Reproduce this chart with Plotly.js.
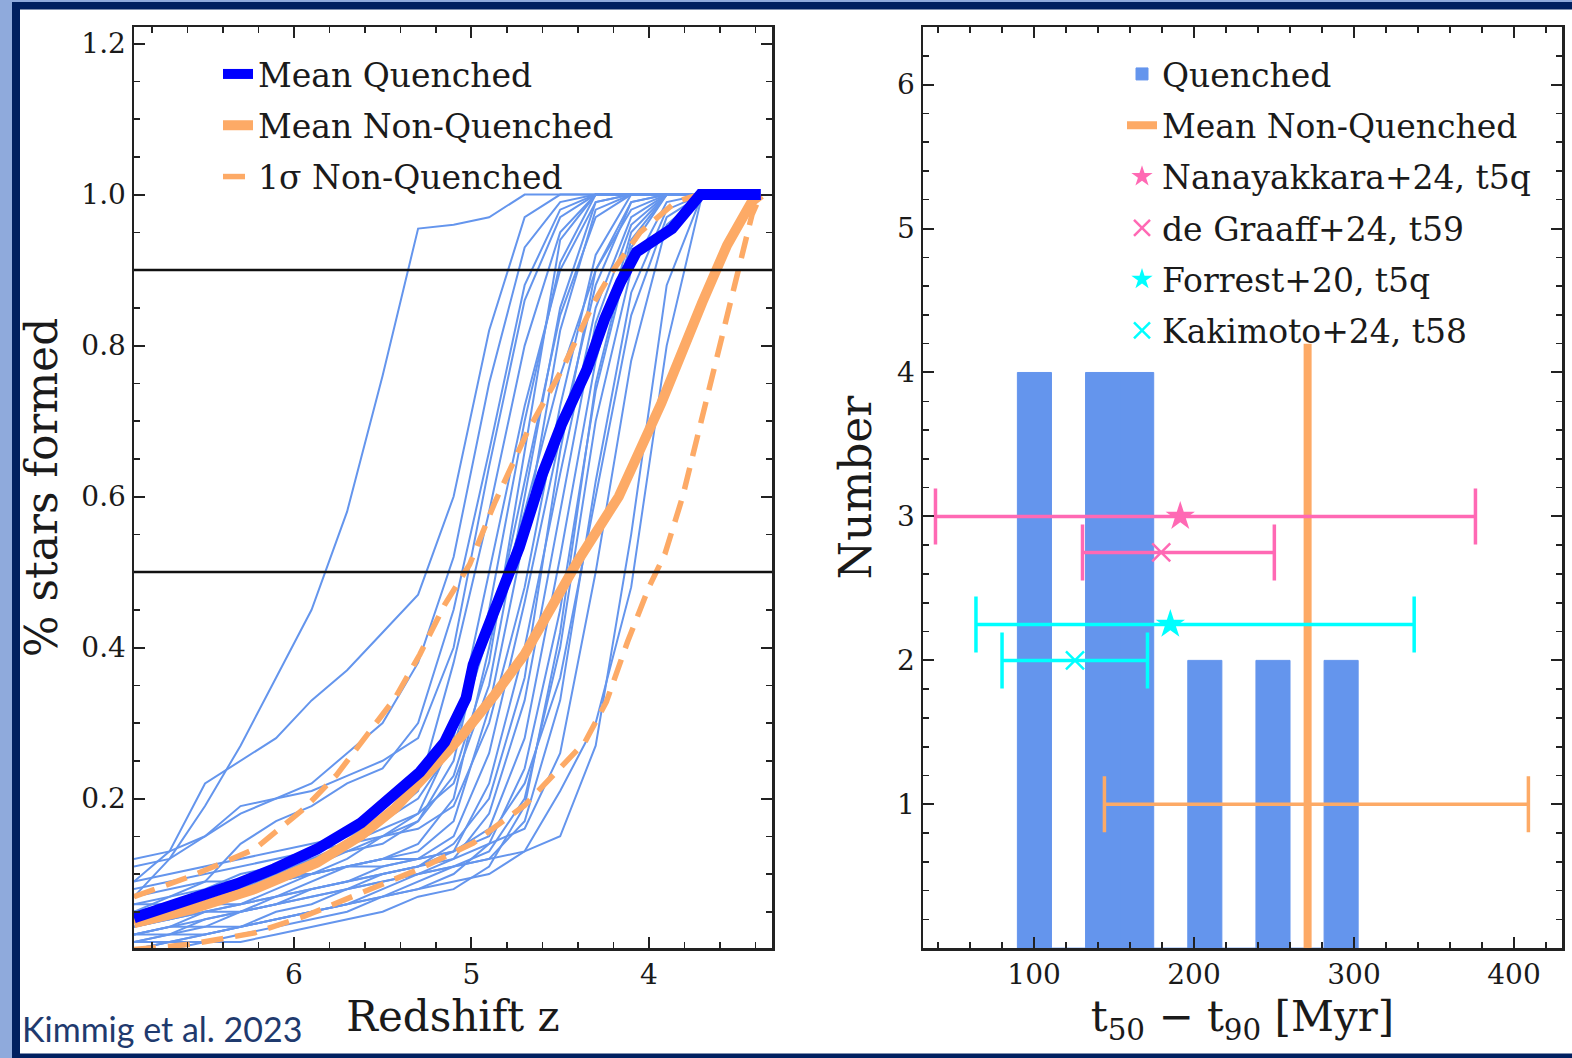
<!DOCTYPE html>
<html>
<head>
<meta charset="utf-8">
<script src="https://cdn.plot.ly/plotly-3.0.1.min.js"></script>
<style>
  html, body { margin: 0; padding: 0; background: #ffffff; }
  #chart { width: 1572px; height: 1058px; }
</style>
</head>
<body>
<div id="chart"></div>
<script>
// ================= LEFT PANEL DATA =================
// common redshift grid of the individual quenched galaxies
const zGrid = [6.9, 6.7, 6.5, 6.3, 6.1, 5.9, 5.7, 5.5, 5.3, 5.1, 4.9, 4.7, 4.5, 4.3, 4.1, 3.9, 3.7];
// fraction of stars formed, one row per quenched galaxy
const galaxyCurves = [
  [0.07,0.12,0.19,0.27,0.36,0.45,0.58,0.76,0.955,0.96,0.97,1,1,1,1,1,1],
  [0.09,0.13,0.22,0.25,0.28,0.33,0.37,0.42,0.47,0.60,0.82,0.97,1,1,1,1,1],
  [0.11,0.12,0.15,0.19,0.20,0.22,0.26,0.30,0.38,0.52,0.75,0.93,0.99,1,1,1,1],
  [0.05,0.07,0.09,0.14,0.17,0.19,0.22,0.24,0.30,0.45,0.66,0.88,0.98,1,1,1,1],
  [0.03,0.05,0.06,0.08,0.11,0.13,0.15,0.17,0.21,0.38,0.58,0.80,0.95,1,1,1,1],
  [0.02,0.03,0.05,0.06,0.08,0.10,0.12,0.15,0.18,0.28,0.50,0.72,0.90,0.99,1,1,1],
  [0.06,0.07,0.08,0.10,0.11,0.12,0.13,0.14,0.17,0.25,0.45,0.70,0.91,1,1,1,1],
  [0.01,0.02,0.04,0.05,0.07,0.09,0.11,0.12,0.14,0.20,0.40,0.62,0.84,0.97,1,1,1],
  [0.04,0.05,0.06,0.07,0.09,0.10,0.11,0.12,0.13,0.17,0.32,0.55,0.82,0.98,1,1,1],
  [0.08,0.09,0.10,0.11,0.12,0.13,0.14,0.15,0.16,0.19,0.30,0.48,0.72,0.92,1,1,1],
  [0.02,0.03,0.03,0.05,0.06,0.08,0.09,0.11,0.12,0.15,0.26,0.46,0.68,0.88,0.99,1,1],
  [0.00,0.01,0.02,0.03,0.05,0.06,0.08,0.10,0.11,0.13,0.22,0.40,0.63,0.85,0.97,1,1],
  [0.03,0.04,0.05,0.06,0.07,0.08,0.09,0.10,0.11,0.12,0.18,0.33,0.58,0.83,0.96,1,1],
  [0.05,0.06,0.07,0.08,0.09,0.10,0.11,0.12,0.12,0.13,0.16,0.28,0.52,0.78,0.95,1,1],
  [0.01,0.01,0.02,0.03,0.04,0.05,0.06,0.07,0.08,0.10,0.14,0.24,0.45,0.74,0.93,1,1],
  [0.04,0.04,0.05,0.05,0.06,0.07,0.08,0.09,0.10,0.11,0.13,0.20,0.40,0.70,0.90,0.99,1],
  [0.00,0.01,0.01,0.02,0.03,0.04,0.05,0.07,0.09,0.11,0.12,0.17,0.33,0.62,0.87,0.98,1],
  [0.07,0.08,0.09,0.09,0.10,0.10,0.11,0.11,0.12,0.13,0.15,0.22,0.36,0.60,0.84,0.97,1],
  [0.02,0.02,0.03,0.03,0.04,0.05,0.06,0.08,0.10,0.12,0.14,0.16,0.26,0.50,0.78,0.96,1],
  [0.01,0.02,0.02,0.03,0.04,0.05,0.06,0.07,0.08,0.09,0.10,0.13,0.21,0.30,0.48,0.80,1],
  [0.06,0.06,0.07,0.08,0.10,0.12,0.14,0.16,0.18,0.22,0.35,0.60,0.85,0.99,1,1,1],
  [0.12,0.13,0.15,0.18,0.20,0.21,0.23,0.25,0.28,0.40,0.64,0.86,0.97,1,1,1,1],
  [0.03,0.04,0.06,0.07,0.09,0.11,0.13,0.15,0.17,0.23,0.38,0.66,0.94,1,1,1,1],
  [0.05,0.05,0.06,0.06,0.07,0.08,0.09,0.10,0.11,0.14,0.20,0.36,0.66,0.90,0.99,1,1],
  [0.00,0.00,0.01,0.01,0.02,0.03,0.04,0.05,0.07,0.08,0.11,0.19,0.42,0.75,0.94,1,1],
  [0.09,0.10,0.11,0.12,0.13,0.14,0.15,0.17,0.20,0.27,0.42,0.58,0.76,0.90,0.98,1,1],
  [0.02,0.03,0.04,0.05,0.06,0.07,0.08,0.09,0.10,0.11,0.12,0.13,0.15,0.27,0.55,0.88,1]
];
// mean quenched
const meanQZ = [6.90,6.55,6.42,6.32,6.11,5.87,5.62,5.48,5.29,5.15,5.03,4.99,4.89,4.82,4.73,4.60,4.49,4.35,4.25,4.16,4.07,3.87,3.71,3.37];
const meanQ  = [0.042,0.067,0.080,0.087,0.107,0.133,0.168,0.195,0.235,0.275,0.333,0.377,0.435,0.480,0.533,0.630,0.697,0.768,0.835,0.884,0.924,0.955,1.0,1.0];
// mean non-quenched
const meanNQZ = [6.90,6.58,6.22,5.87,5.62,5.43,5.24,5.05,4.87,4.70,4.54,4.40,4.17,3.93,3.70,3.56,3.42,3.37];
const meanNQ  = [0.035,0.053,0.080,0.115,0.151,0.187,0.235,0.284,0.337,0.391,0.457,0.515,0.600,0.724,0.857,0.933,0.991,1.0];
// 1 sigma non-quenched (upper / lower)
const sigUpZ = [6.90,6.58,6.22,5.94,5.76,5.62,5.43,5.29,5.15,5.01,4.87,4.68,4.49,4.31,4.21,4.05,3.85,3.72];
const sigUp  = [0.070,0.097,0.133,0.187,0.231,0.275,0.333,0.391,0.457,0.510,0.591,0.688,0.768,0.857,0.897,0.950,0.990,1.0];
const sigLoZ = [6.90,6.58,6.22,5.94,5.62,5.29,4.99,4.70,4.47,4.36,4.24,4.12,4.00,3.91,3.81,3.70,3.58,3.49,3.42,3.37];
const sigLo  = [0.000,0.007,0.022,0.044,0.075,0.107,0.141,0.191,0.248,0.275,0.328,0.408,0.480,0.524,0.600,0.707,0.821,0.910,0.973,1.0];
// horizontal reference levels
const thresholds = [0.5, 0.9];

// ================= RIGHT PANEL DATA =================
const binEdges  = [89.6, 110.9, 132.2, 153.5, 174.8, 196.1, 217.4, 238.7, 260.0, 281.3, 302.6];
const binCounts = [4, 0, 4, 4, 0, 2, 0, 2, 0, 2];
// mean non-quenched t50 - t90
const nqMeanT = 271;
const nqLineY = [0, 4.2];
const nqErrY = 1;
const nqErrMinus = 127;
const nqErrPlus = 138;
// literature values
const litLabels = ['Nanayakkara+24, t5q', 'de Graaff+24, t59', 'Forrest+20, t5q', 'Kakimoto+24, t58'];
const litT = [191.4, 179.5, 185.2, 125.6];
const litY = [3, 2.75, 2.25, 2];
const litErrMinus = [153.0, 49.2, 121.5, 45.6];
const litErrPlus = [184.5, 70.7, 152.4, 45.3];

// ================= STYLE =================
const ORANGE = '#FDAA66';
const LIGHTBLUE = '#6495ED';
const PINK = '#FF69B4';
const CYAN = '#00FFFF';
const litColors = [PINK, PINK, CYAN, CYAN];
const litSymbols = ['star', 'x-thin-open', 'star', 'x-thin-open'];
const SERIF = 'DejaVu Serif, Liberation Serif, serif';
const W = 1572, H = 1058;

const traces = [];
galaxyCurves.forEach(function (vals) {
  traces.push({
    type: 'scatter', mode: 'lines', x: zGrid, y: vals, xaxis: 'x', yaxis: 'y',
    line: { color: LIGHTBLUE, width: 2 }, showlegend: false, hoverinfo: 'skip'
  });
});
traces.push({
  type: 'scatter', mode: 'lines', x: sigUpZ, y: sigUp, xaxis: 'x', yaxis: 'y',
  name: '1σ Non-Quenched', legend: 'legend', legendgroup: 'l3', legendrank: 3,
  line: { color: ORANGE, width: 5.5, dash: '22px,12px' }
});
traces.push({
  type: 'scatter', mode: 'lines', x: sigLoZ, y: sigLo, xaxis: 'x', yaxis: 'y',
  showlegend: false, legendgroup: 'l3',
  line: { color: ORANGE, width: 5.5, dash: '22px,12px' }
});
traces.push({
  type: 'scatter', mode: 'lines', x: meanNQZ, y: meanNQ, xaxis: 'x', yaxis: 'y',
  name: 'Mean Non-Quenched', legend: 'legend', legendgroup: 'l2', legendrank: 2,
  line: { color: ORANGE, width: 10 }
});
traces.push({
  type: 'scatter', mode: 'lines', x: meanQZ, y: meanQ, xaxis: 'x', yaxis: 'y',
  name: 'Mean Quenched', legend: 'legend', legendgroup: 'l1', legendrank: 1,
  line: { color: '#0000FF', width: 11 }
});

// histogram of quenched galaxies
const binCenters = binCounts.map(function (c, i) { return (binEdges[i] + binEdges[i + 1]) / 2; });
const binWidths = binCounts.map(function (c, i) { return binEdges[i + 1] - binEdges[i]; });
traces.push({
  type: 'bar', x: binCenters, y: binCounts, width: binWidths, xaxis: 'x2', yaxis: 'y2',
  name: 'Quenched', legend: 'legend2', legendgroup: 'r1', legendrank: 1,
  marker: { color: LIGHTBLUE, line: { width: 1, color: LIGHTBLUE } }
});
traces.push({
  type: 'scatter', mode: 'lines', x: [nqMeanT, nqMeanT], y: nqLineY, xaxis: 'x2', yaxis: 'y2',
  name: 'Mean Non-Quenched', legend: 'legend2', legendgroup: 'r2', legendrank: 2,
  line: { color: ORANGE, width: 8 }
});
traces.push({
  type: 'scatter', mode: 'markers', x: [nqMeanT], y: [nqErrY], xaxis: 'x2', yaxis: 'y2',
  showlegend: false, legend: 'legend2',
  marker: { size: 1, color: 'rgba(0,0,0,0)' },
  error_x: { type: 'data', symmetric: false, array: [nqErrPlus], arrayminus: [nqErrMinus], color: ORANGE, thickness: 3.5, width: 28 }
});
litLabels.forEach(function (lab, i) {
  const isX = litSymbols[i].indexOf('x') === 0;
  traces.push({
    type: 'scatter', mode: 'markers', x: [litT[i]], y: [litY[i]], xaxis: 'x2', yaxis: 'y2',
    name: lab, legend: 'legend2', legendgroup: 'r' + (i + 3), legendrank: i + 3,
    marker: isX ? { symbol: litSymbols[i], size: 18, color: litColors[i], line: { color: litColors[i], width: 2.5 } }
                : { symbol: litSymbols[i], size: 22, color: litColors[i], line: { width: 0 } },
    error_x: { type: 'data', symmetric: false, array: [litErrPlus[i]], arrayminus: [litErrMinus[i]], color: litColors[i], thickness: 3.5, width: 28 }
  });
});

function axisBase(extra) {
  const base = {
    showline: true, linecolor: '#222', linewidth: 2.5, mirror: 'allticks',
    ticks: 'inside', ticklen: 11, tickwidth: 2, tickcolor: '#222',
    showgrid: false, zeroline: false,
    tickfont: { family: SERIF, size: 28, color: '#1a1a1a' }
  };
  return Object.assign(base, extra);
}
const minorBase = { ticks: 'inside', ticklen: 6, tickwidth: 1.5, tickcolor: '#222', showgrid: false };
const titleFont = { family: SERIF, size: 42, color: '#1a1a1a' };
const yTitleFont = { family: SERIF, size: 44, color: '#1a1a1a' };
const yDom = [1 - 948 / H, 1 - 27 / H];

const shapes = [];
thresholds.forEach(function (t) {
  shapes.push({ type: 'line', xref: 'x domain', yref: 'y', x0: 0, x1: 1, y0: t, y1: t, line: { color: '#111', width: 2.5 }, layer: 'above' });
});
// slide frame
shapes.push({ type: 'rect', xref: 'paper', yref: 'paper', x0: 0, x1: 12 / W, y0: 0, y1: 1, fillcolor: '#8FAADC', line: { width: 0 } });
shapes.push({ type: 'rect', xref: 'paper', yref: 'paper', x0: 0, x1: 1, y0: 1 - 2 / H, y1: 1, fillcolor: '#8FAADC', line: { width: 0 } });
shapes.push({ type: 'rect', xref: 'paper', yref: 'paper', x0: 12 / W, x1: 20 / W, y0: 0, y1: 1 - 2 / H, fillcolor: '#002060', line: { width: 0 } });
shapes.push({ type: 'rect', xref: 'paper', yref: 'paper', x0: 12 / W, x1: 1, y0: 1 - 9.5 / H, y1: 1 - 2 / H, fillcolor: '#002060', line: { width: 0 } });
shapes.push({ type: 'rect', xref: 'paper', yref: 'paper', x0: 12 / W, x1: 1, y0: 0, y1: 4.5 / H, fillcolor: '#002060', line: { width: 0 } });

const legendBase = {
  bgcolor: 'rgba(0,0,0,0)', borderwidth: 0, traceorder: 'grouped', tracegroupgap: 5.4,
  font: { family: SERIF, size: 33, color: '#1a1a1a' },
  xanchor: 'left', yanchor: 'top'
};

const layout = {
  width: W, height: H,
  margin: { l: 0, r: 0, t: 0, b: 0 },
  paper_bgcolor: '#ffffff', plot_bgcolor: '#ffffff',
  hovermode: false,
  showlegend: true,
  xaxis: axisBase({
    domain: [134 / W, 772 / W], anchor: 'y', range: [6.90, 3.307], dtick: 1, tick0: 0,
    minor: Object.assign({ dtick: 0.2, tick0: 0 }, minorBase),
    title: { text: 'Redshift z', font: titleFont, standoff: 12 }
  }),
  yaxis: axisBase({
    domain: yDom, anchor: 'x', range: [0.002, 1.222], dtick: 0.2, tick0: 0, tickformat: '.1f',
    minor: Object.assign({ dtick: 0.05, tick0: 0 }, minorBase),
    title: { text: '% stars formed', font: yTitleFont, standoff: 10 }
  }),
  xaxis2: axisBase({
    domain: [923 / W, 1562 / W], anchor: 'y2', range: [30.6, 430], dtick: 100, tick0: 0,
    minor: Object.assign({ dtick: 20, tick0: 0 }, minorBase),
    title: { text: 't<sub>50</sub> − t<sub>90</sub> [Myr]', font: titleFont, standoff: 12 }
  }),
  yaxis2: axisBase({
    domain: yDom, anchor: 'x2', range: [0.002, 6.4], dtick: 1, tick0: 0,
    minor: Object.assign({ dtick: 0.2, tick0: 0 }, minorBase),
    title: { text: 'Number', font: yTitleFont, standoff: 12 }
  }),
  legend: Object.assign({ x: (258 - 40) / W, y: 1 - 46 / H }, legendBase),
  legend2: Object.assign({ x: (1160 - 38) / W, y: 1 - 46 / H }, legendBase),
  shapes: shapes,
  annotations: [{
    text: 'Kimmig et al. 2023', xref: 'paper', yref: 'paper',
    x: 20 / W, y: 1 - 1028 / H, xanchor: 'left', yanchor: 'middle', showarrow: false,
    font: { family: 'Lato, Open Sans, sans-serif', size: 34, color: '#1F3A6E' }
  }]
};

Plotly.newPlot('chart', traces, layout, { displayModeBar: false, staticPlot: true });
</script>
</body>
</html>
